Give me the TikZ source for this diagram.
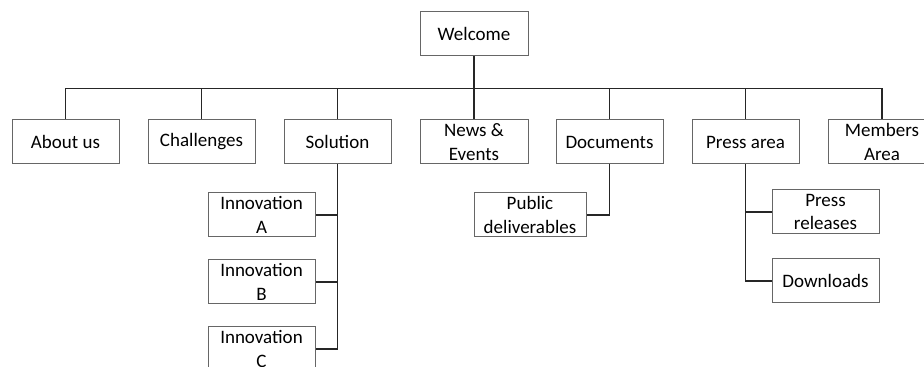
\documentclass[tikz,border=0pt]{standalone}
\usepackage{fontspec}
\setmainfont{Carlito}
\usetikzlibrary{positioning}
\tikzset{
	sitemap/.style={
		x=0.5pt, y=-0.5pt,
		every node/.style={font=\fontsize{9.5pt}{11.8pt}\selectfont},
		link/.style={draw=black!85, line width=0.8pt},
	},
	page/.style={draw=black!60, line width=0.5pt, fill=white, align=center,
		minimum width=53.5pt, minimum height=22pt, inner sep=1pt},
	subpage/.style={page, minimum width=#1},
	subpage/.default=53.5pt,
}

\begin{document}
\begin{tikzpicture}[sitemap]
	\clip (0,0) rectangle (924,367);
	\useasboundingbox (0,0) rectangle (924,367);
	% top level
	\node[page, minimum width=54pt] (welcome) at (474,34) {Welcome};
	\node[page] (about)     at (65.5,142)  {About us};
	\node[page] (challenge) at (201.5,142) {Challenges};
	\node[page] (solution)  at (337.5,142) {Solution};
	\node[page, minimum width=54pt] (news) at (474,142) {News \&\\Events};
	\node[page] (docs)      at (609.5,142) {Documents};
	\node[page] (press)     at (745.5,142) {Press area};
	\node[page] (members)   at (882,142)   {Members\\Area};
	% second level
	\node[subpage] (innoA) at (261.5,215) {Innovation\\A};
	\node[subpage] (innoB) at (261.5,282) {Innovation\\B};
	\node[subpage] (innoC) at (261.5,349) {Innovation\\C};
	\node[subpage=56pt] (pubdel) at (530,215) {Public\\deliverables};
	\node[subpage] (pressrel)  at (825.5,212) {Press\\releases};
	\node[subpage] (downloads) at (825.5,281) {Downloads};
	% links
	\draw[link] (welcome.south) -- ++(0,32) coordinate (bus);
	\foreach \n in {about,challenge,solution,news,docs,press,members}
		\draw[link] (bus) -| (\n.north);
	\foreach \n in {innoA,innoB,innoC}
		\draw[link] (solution.south) |- (\n.east);
	\draw[link] (docs.south) |- (pubdel.east);
	\foreach \n in {pressrel,downloads}
		\draw[link] (press.south) |- (\n.west);
\end{tikzpicture}
\end{document}
